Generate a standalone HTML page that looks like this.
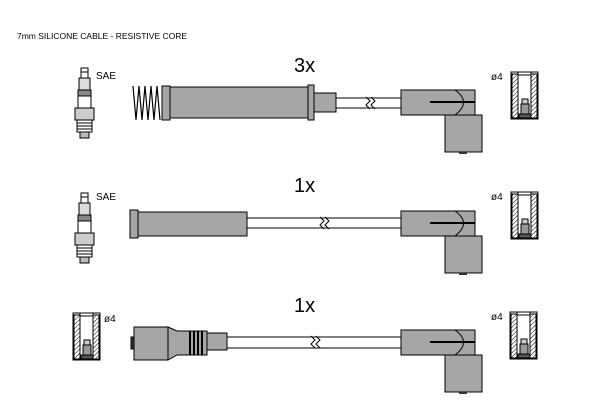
<!DOCTYPE html>
<html><head><meta charset="utf-8"><style>
html,body{margin:0;padding:0;background:#fff;width:600px;height:400px;overflow:hidden}
svg{display:block}
text{font-family:"Liberation Sans",sans-serif;fill:#000}
</style></head><body>
<svg width="600" height="400" viewBox="0 0 600 400" xmlns="http://www.w3.org/2000/svg">
<defs>
<pattern id="h" width="3" height="3" patternUnits="userSpaceOnUse" patternTransform="rotate(45)">
<rect width="3" height="3" fill="#fff"/><line x1="0" y1="0" x2="0" y2="3" stroke="#000" stroke-width="1"/>
</pattern>
<g id="plug">
<rect x="81" y="0" width="7" height="10" fill="#fff" stroke="#000"/>
<line x1="81" y1="4" x2="88" y2="4" stroke="#000"/>
<rect x="79" y="10" width="11" height="12" fill="#ddd" stroke="#000"/>
<rect x="78" y="22" width="13" height="6" fill="#888" stroke="#000"/>
<rect x="78" y="28" width="13" height="12" fill="#fff" stroke="#000"/>
<rect x="75" y="40" width="19" height="12" fill="#ccc" stroke="#000"/>
<rect x="77" y="52" width="15" height="12" fill="#fff" stroke="#000"/>
<line x1="77" y1="55" x2="92" y2="55" stroke="#000"/><line x1="77" y1="58" x2="92" y2="58" stroke="#000"/><line x1="77" y1="61" x2="92" y2="61" stroke="#000"/>
<rect x="80" y="64" width="9" height="6" fill="#bbb" stroke="#000"/>
</g>
<g id="term">
<rect x="0" y="0" width="27" height="47" fill="#fff" stroke="#000"/>
<rect x="1" y="2" width="6" height="44" fill="url(#h)" stroke="#000"/>
<rect x="20" y="2" width="6" height="44" fill="url(#h)" stroke="#000"/>
<rect x="7" y="0" width="13" height="3" fill="#fff" stroke="#000"/>
<rect x="11" y="27" width="6" height="5" fill="#ccc" stroke="#000"/>
<rect x="10" y="32" width="8" height="10" fill="#999" stroke="#000"/>
<rect x="8" y="42" width="12" height="4" fill="#555" stroke="#000"/>
</g>
<g id="elbow">
<rect x="401" y="0" width="74" height="25" fill="#a6a6a6" stroke="#000"/>
<path d="M455 0 Q472 12 455 25" fill="none" stroke="#000"/>
<line x1="430" y1="12" x2="475" y2="12" stroke="#000" stroke-width="2"/>
<rect x="445" y="25" width="37" height="37" fill="#a6a6a6" stroke="#000"/>
<rect x="459" y="62" width="8" height="2" fill="#333"/>
</g>
<g id="brk"><path d="M-2 -6 L2 -2 L-2 2 L2 6 M3 -6 L7 -2 L3 2 L7 6" fill="#fff" stroke="#000"/></g>
</defs>

<text x="17" y="39" font-size="8.5">7mm SILICONE CABLE - RESISTIVE CORE</text>

<!-- Row 1 -->
<text x="294" y="72" font-size="20">3x</text>
<use href="#plug" transform="translate(0,68)"/>
<text x="96" y="79" font-size="10">SAE</text>
<path d="M133 86 L136 120 L139 86 L142 120 L145 86 L148 120 L151 86 L154 120 L157 86 L160 120" fill="none" stroke="#000" stroke-width="1.2"/>
<rect x="162" y="86" width="8" height="34" fill="#a6a6a6" stroke="#000"/>
<rect x="170" y="87" width="138" height="31" fill="#a6a6a6" stroke="#000"/>
<rect x="308" y="85" width="6" height="35" fill="#a6a6a6" stroke="#000"/>
<rect x="314" y="93" width="22" height="19" fill="#a6a6a6" stroke="#000"/>
<rect x="336" y="98" width="65" height="10" fill="#fff" stroke="#000"/>
<use href="#brk" transform="translate(368,103)"/>
<use href="#elbow" transform="translate(0,90)"/>
<text x="491" y="80" font-size="10">ø4</text>
<use href="#term" transform="translate(511,72)"/>

<!-- Row 2 -->
<text x="294" y="192" font-size="20">1x</text>
<use href="#plug" transform="translate(0,193)"/>
<text x="96" y="200" font-size="10">SAE</text>
<rect x="130" y="210" width="8" height="28" fill="#a6a6a6" stroke="#000"/>
<rect x="138" y="212" width="109" height="24" fill="#a6a6a6" stroke="#000"/>
<rect x="247" y="218" width="154" height="10" fill="#fff" stroke="#000"/>
<use href="#brk" transform="translate(322,223)"/>
<use href="#elbow" transform="translate(0,211)"/>
<text x="491" y="200" font-size="10">ø4</text>
<use href="#term" transform="translate(511,192)"/>

<!-- Row 3 -->
<text x="294" y="312" font-size="20">1x</text>
<use href="#term" transform="translate(73,313)"/>
<text x="104" y="322" font-size="10">ø4</text>
<rect x="131" y="337" width="4" height="12" fill="#333" stroke="#000"/>
<rect x="134" y="327" width="34" height="33" fill="#a6a6a6" stroke="#000"/>
<path d="M168 327 L177 331 L207 331 L207 355 L177 355 L168 360 Z" fill="#a6a6a6" stroke="#000"/>
<line x1="190" y1="331" x2="190" y2="355" stroke="#000" stroke-width="2"/>
<line x1="194" y1="331" x2="194" y2="355" stroke="#000" stroke-width="2"/>
<line x1="198" y1="331" x2="198" y2="355" stroke="#000" stroke-width="2"/>
<line x1="202" y1="331" x2="202" y2="355" stroke="#000" stroke-width="2"/>
<rect x="207" y="333" width="20" height="17" fill="#a6a6a6" stroke="#000"/>
<rect x="227" y="337" width="174" height="11" fill="#fff" stroke="#000"/>
<use href="#brk" transform="translate(313,342)"/>
<use href="#elbow" transform="translate(0,330)"/>
<text x="491" y="320" font-size="10">ø4</text>
<use href="#term" transform="translate(510,312)"/>
</svg>
</body></html>
